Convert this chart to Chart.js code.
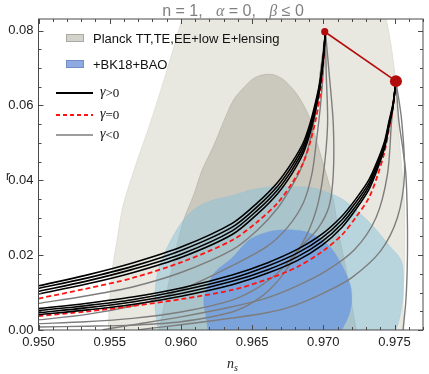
<!DOCTYPE html>
<html>
<head>
<meta charset="utf-8">
<script src="https://cdn.jsdelivr.net/npm/chart.js@4.4.1/dist/chart.umd.min.js"></script>
<style>
  html, body { margin: 0; padding: 0; background: #fff; }
</style>
</head>
<body>
<canvas id="myChart" width="429" height="374"></canvas>
<script>
// axis ranges and tick labels
const X_MIN = 0.950, X_MAX = 0.977;
const Y_MIN = 0.0, Y_MAX = 0.0831;
const xTicks = [0.950, 0.955, 0.960, 0.965, 0.970, 0.975];
const yTicks = [0.00, 0.02, 0.04, 0.06, 0.08];

// end points (linear potential, N = 50 and N = 60)
const endPoints = [[0.9701, 0.0797], [0.9751, 0.0665]];

// contours  [n_s, r]
const planckOuter = [[0.9549,-0.002],[0.9549,0],[0.9550,0.0080],[0.9552,0.0166],[0.9555,0.0235],[0.9559,0.0326],[0.9566,0.0415],[0.9580,0.0570],[0.9591,0.0704],[0.9601,0.0832],[0.9606,0.0880],[0.9740,0.0880],[0.9744,0.0832],[0.9748,0.0749],[0.9751,0.0658],[0.9752,0.0570],[0.9755,0.0436],[0.9757,0.0326],[0.9757,0.0190],[0.9756,0.0059],[0.9757,-0.002]];
const planckInner = [[0.9585,-0.002],[0.9585,0],[0.9589,0.0080],[0.9595,0.0187],[0.9602,0.0294],[0.9609,0.0361],[0.9615,0.0428],[0.9623,0.0492],[0.9630,0.0557],[0.9637,0.0615],[0.9644,0.0647],[0.9651,0.0672],[0.9658,0.0682],[0.9665,0.0682],[0.9672,0.0669],[0.9679,0.0642],[0.9684,0.0615],[0.9690,0.0570],[0.9697,0.0482],[0.9702,0.0417],[0.9707,0.0348],[0.9711,0.0254],[0.9716,0.0161],[0.9720,0.0067],[0.9723,0],[0.9723,-0.002]];
const bkOuter = [[0.9586,-0.003],[0.9584,0],[0.9582,0.0054],[0.9582,0.0107],[0.9584,0.0161],[0.9589,0.0209],[0.9595,0.0254],[0.9603,0.0300],[0.9612,0.0329],[0.9623,0.0348],[0.9636,0.0359],[0.9650,0.0375],[0.9664,0.0383],[0.9678,0.0383],[0.9692,0.0380],[0.9702,0.0369],[0.9714,0.0348],[0.9732,0.0289],[0.9746,0.0227],[0.9755,0.0182],[0.9756,0.0102],[0.9754,0.0040],[0.9751,0],[0.9748,-0.003]];
const bkInner = [[0.9620,-0.003],[0.9618,0.0027],[0.9616,0.0080],[0.9619,0.0120],[0.9624,0.0155],[0.9636,0.0193],[0.9648,0.0241],[0.9661,0.0262],[0.9675,0.0268],[0.9690,0.0260],[0.9704,0.0225],[0.9713,0.0174],[0.9719,0.0120],[0.9720,0.0080],[0.9718,0.0040],[0.9713,0],[0.9709,-0.003]];

// N = 50 family
const nsA = [0.9500,0.9533,0.9566,0.9601,0.9636,0.9654,0.9668,0.9678,0.9686,0.9691,0.9695,0.9698,0.9700,0.97015];
const blackA = [
  [0.0118,0.0146,0.0179,0.0223,0.0285,0.0341,0.0395,0.0448,0.0501,0.0556,0.0616,0.0672,0.0733,0.0797],
  [0.0111,0.0138,0.0170,0.0214,0.0275,0.0331,0.0385,0.0438,0.0492,0.0547,0.0609,0.0667,0.0730,0.0797],
  [0.0103,0.0130,0.0162,0.0204,0.0265,0.0321,0.0375,0.0428,0.0482,0.0539,0.0601,0.0661,0.0726,0.0797],
  [0.0096,0.0122,0.0153,0.0195,0.0255,0.0311,0.0365,0.0418,0.0473,0.0530,0.0594,0.0656,0.0723,0.0797]
];
const redA = [0.0084,0.0110,0.0139,0.0182,0.0240,0.0290,0.0340,0.0392,0.0448,0.0505,0.0568,0.0635,0.0715,0.0797];
const grayA = [
  [[0.9500,0.0071],[0.9533,0.0091],[0.9566,0.0115],[0.9601,0.0155],[0.9636,0.0214],[0.9654,0.0268],[0.9668,0.0326],[0.9678,0.0385],[0.9684,0.0428],[0.9689,0.0482],[0.9693,0.0548],[0.9696,0.0615],[0.9698,0.0690],[0.9700,0.0749],[0.97015,0.0797]],
  [[0.9500,0.0027],[0.9533,0.0041],[0.9566,0.0064],[0.9585,0.0085],[0.9610,0.0124],[0.9636,0.0172],[0.9660,0.0222],[0.9675,0.0275],[0.9686,0.0340],[0.9692,0.0417],[0.9695,0.0500],[0.9698,0.0600],[0.9700,0.0690],[0.97015,0.0797]],
  [[0.9500,0.0017],[0.9533,0.0022],[0.9566,0.0031],[0.9600,0.0048],[0.9636,0.0080],[0.9655,0.0115],[0.9670,0.0160],[0.9685,0.0230],[0.9695,0.0320],[0.9700,0.0417],[0.9703,0.0550],[0.9702,0.0690],[0.97015,0.0797]],
  [[0.9500,0.0008],[0.9533,0.0010],[0.9566,0.0013],[0.9600,0.0022],[0.9636,0.0048],[0.9655,0.0085],[0.9670,0.0140],[0.9684,0.0220],[0.9696,0.0270],[0.9704,0.0330],[0.9707,0.0417],[0.9707,0.0550],[0.9704,0.0690],[0.97015,0.0797]]
];

// N = 60 family
const nsB = [0.9500,0.9533,0.9566,0.9601,0.9636,0.9661,0.9682,0.9699,0.9713,0.9723,0.9732,0.9738,0.9743,0.9746,0.9749,0.9751];
const blackB = [
  [0.0057,0.0071,0.0088,0.0113,0.0147,0.0180,0.0216,0.0256,0.0304,0.0351,0.0401,0.0452,0.0504,0.0555,0.0606,0.0666],
  [0.0052,0.0065,0.0081,0.0106,0.0138,0.0171,0.0206,0.0246,0.0294,0.0342,0.0392,0.0445,0.0498,0.0550,0.0603,0.0666],
  [0.0046,0.0059,0.0075,0.0098,0.0130,0.0161,0.0196,0.0236,0.0284,0.0332,0.0384,0.0437,0.0492,0.0546,0.0601,0.0666],
  [0.0041,0.0053,0.0068,0.0091,0.0121,0.0152,0.0186,0.0226,0.0274,0.0323,0.0375,0.0430,0.0486,0.0541,0.0598,0.0666]
];
const redB = [0.0037,0.0049,0.0064,0.0083,0.0107,0.0136,0.0169,0.0209,0.0254,0.0302,0.0353,0.0412,0.0476,0.0535,0.0597,0.0666];
const grayB = [
  [[0.9751,0.0665],[0.9748,0.0560],[0.9745,0.0415],[0.9737,0.0300],[0.9722,0.0215],[0.9702,0.0158],[0.9680,0.0115],[0.9660,0.0085],[0.9636,0.0062],[0.9600,0.0035],[0.9570,0.0016],[0.9550,0.0004],[0.9545,0]],
  [[0.9751,0.0665],[0.9755,0.0560],[0.9757,0.0415],[0.9752,0.0300],[0.9740,0.0210],[0.9720,0.0140],[0.9702,0.0102],[0.9680,0.0066],[0.9660,0.0046],[0.9636,0.0032],[0.9600,0.0014],[0.9575,0.0003],[0.9570,0]],
  [[0.9751,0.0665],[0.9753,0.0560],[0.9756,0.0480],[0.9758,0.0415],[0.9759,0.0300],[0.9759,0.0180],[0.9758,0.0080],[0.9756,0.0]]
];

const pts = arr => arr.map(([x, y]) => ({x, y}));
const zip = (xs, ys) => xs.map((x, i) => ({x, y: ys[i]}));

const region = (data, color, border, order) => ({
  data: pts(data), showLine: true, fill: 'shape', backgroundColor: color,
  borderColor: border, borderWidth: 0.8, pointRadius: 0, tension: 0.3, order
});
const curve = (data, color, width, dash, order) => ({
  data, showLine: true, fill: false, borderColor: color,
  borderWidth: width, borderDash: dash, pointRadius: 0, tension: 0.3, order
});

const datasets = [
  {
    data: pts(endPoints), showLine: true, borderColor: '#b30c0c', borderWidth: 1.6,
    pointRadius: [3.6, 6], pointBackgroundColor: '#b30c0c', pointBorderWidth: 0, order: 0
  },
  ...blackA.map(c => curve(zip(nsA, c), '#000', 1.6, [], 2)),
  ...blackB.map(c => curve(zip(nsB, c), '#000', 1.6, [], 2)),
  curve(zip(nsA, redA), '#ff1414', 1.8, [5, 3], 3),
  curve(zip(nsB, redB), '#ff1414', 1.8, [5, 3], 3),
  ...grayA.map(c => curve(pts(c), '#7d7d7d', 1.4, [], 4)),
  ...grayB.map(c => curve(pts(c), '#7d7d7d', 1.4, [], 4)),
  region(bkInner, 'rgba(104,150,226,0.72)', 'rgba(104,150,226,0.3)', 7),
  region(bkOuter, 'rgba(135,192,218,0.5)', 'rgba(135,192,218,0.4)', 8),
  region(planckInner, '#cbc9bd', '#b9b7ab', 9),
  region(planckOuter, '#e8e8e0', '#dcdcd2', 10)
];

// frame, inward ticks, title, legend, axis labels
const decor = {
  id: 'decor',
  afterDatasetsDraw(chart) {
    const {ctx, chartArea: a, scales: {x, y}} = chart;
    ctx.save();
    ctx.strokeStyle = '#4a4a4a';
    ctx.lineWidth = 1;
    ctx.beginPath();
    for (let i = 0; i <= 27; i++) {
      const px = Math.round(x.getPixelForValue(0.950 + i * 0.001)) + 0.5;
      const len = (i % 5 === 0) ? 5 : 3;
      ctx.moveTo(px, a.bottom); ctx.lineTo(px, a.bottom - len);
      ctx.moveTo(px, a.top); ctx.lineTo(px, a.top + len);
    }
    for (let i = 0; i <= 16; i++) {
      const py = Math.round(y.getPixelForValue(i * 0.005)) + 0.5;
      const len = (i % 4 === 0) ? 5 : 3;
      ctx.moveTo(a.left, py); ctx.lineTo(a.left + len, py);
      ctx.moveTo(a.right, py); ctx.lineTo(a.right - len, py);
    }
    ctx.stroke();
    ctx.strokeRect(a.left, a.top, a.right - a.left, a.bottom - a.top);

    // legend
    ctx.fillStyle = '#d3d3cb'; ctx.strokeStyle = '#a9a9a0';
    ctx.fillRect(66, 34, 18, 8); ctx.strokeRect(66.5, 34.5, 17, 7);
    ctx.fillStyle = '#8fa9e1'; ctx.strokeStyle = '#6f8fcb';
    ctx.fillRect(66, 60, 18, 8); ctx.strokeRect(66.5, 60.5, 17, 7);
    ctx.font = '13px "Liberation Sans", Arial, sans-serif';
    ctx.fillStyle = '#111';
    ctx.textBaseline = 'alphabetic';
    ctx.fillText('Planck TT,TE,EE+low E+lensing', 93, 43);
    ctx.fillText('+BK18+BAO', 93, 69);
    const lines = [['#000', [], 1.8, 'γ', '>0', 93], ['#ff1414', [4, 3], 1.8, 'γ', '=0', 115], ['#7d7d7d', [], 1.6, 'γ', '<0', 135]];
    lines.forEach(([c, d, w, g, t, yy]) => {
      ctx.strokeStyle = c; ctx.lineWidth = w; ctx.setLineDash(d);
      ctx.beginPath(); ctx.moveTo(56, yy); ctx.lineTo(93, yy); ctx.stroke();
      ctx.setLineDash([]);
      ctx.font = 'italic 14px "Liberation Serif", "DejaVu Serif", serif';
      ctx.fillText(g, 100, yy + 3);
      const w0 = ctx.measureText(g).width;
      ctx.font = '13px "Liberation Serif", "DejaVu Serif", serif';
      ctx.fillText(t, 100 + w0, yy + 4);
    });
    ctx.restore();
  },
  afterDraw(chart) {
    const {ctx} = chart;
    ctx.save();
    ctx.fillStyle = '#808080';
    ctx.textBaseline = 'alphabetic';
    // title: n = 1,   α = 0,   β ≤ 0
    const parts = [['n = 1,   ', false], ['α', true], [' = 0,   ', false], ['β', true], [' ≤ 0', false]];
    const fontOf = it => it ? 'italic 16px "Liberation Serif", "DejaVu Serif", serif' : '16px "Liberation Sans", Arial, sans-serif';
    let total = 0;
    parts.forEach(([t, it]) => { ctx.font = fontOf(it); total += ctx.measureText(t).width; });
    let cx = 233 - total / 2;
    parts.forEach(([t, it]) => { ctx.font = fontOf(it); ctx.fillText(t, cx, 16); cx += ctx.measureText(t).width; });

    // axis labels
    ctx.fillStyle = '#222';
    ctx.font = '12px "Liberation Sans", Arial, sans-serif';
    ctx.fillText('r', 6, 180);
    ctx.font = 'italic 14px "Liberation Serif", "DejaVu Serif", serif';
    ctx.fillText('n', 227, 368);
    ctx.font = 'italic 10px "Liberation Serif", "DejaVu Serif", serif';
    ctx.fillText('s', 234, 371);
    ctx.restore();
  }
};

const setup = () => {
  const ctxt = document.getElementById('myChart').getContext('2d');
  new Chart(ctxt, {
    type: 'scatter',
    data: { datasets },
    options: {
      responsive: false,
      animation: false,
      elements: { line: { capBezierPoints: false } },
      layout: { padding: { left: 0, right: 2, top: 19, bottom: 0 } },
      plugins: { legend: { display: false }, tooltip: { enabled: false } },
      scales: {
        x: {
          type: 'linear', min: X_MIN, max: X_MAX,
          grid: { display: false, drawTicks: false },
          border: { display: false },
          afterBuildTicks: s => { s.ticks = xTicks.map(v => ({value: v})); },
          afterFit: s => { s.height = 44; },
          ticks: {
            padding: 5, color: '#222', maxRotation: 0,
            font: { family: '"Liberation Sans", Arial, sans-serif', size: 13 },
            callback: v => v.toFixed(3)
          }
        },
        y: {
          type: 'linear', min: Y_MIN, max: Y_MAX,
          grid: { display: false, drawTicks: false },
          border: { display: false },
          afterBuildTicks: s => { s.ticks = yTicks.map(v => ({value: v})); },
          afterFit: s => { s.width = 38.5; },
          ticks: {
            padding: 5, color: '#222',
            font: { family: '"Liberation Sans", Arial, sans-serif', size: 13 },
            callback: v => v.toFixed(2)
          }
        }
      }
    },
    plugins: [decor]
  });
};

window.addEventListener('DOMContentLoaded', setup);
</script>
</body>
</html>
